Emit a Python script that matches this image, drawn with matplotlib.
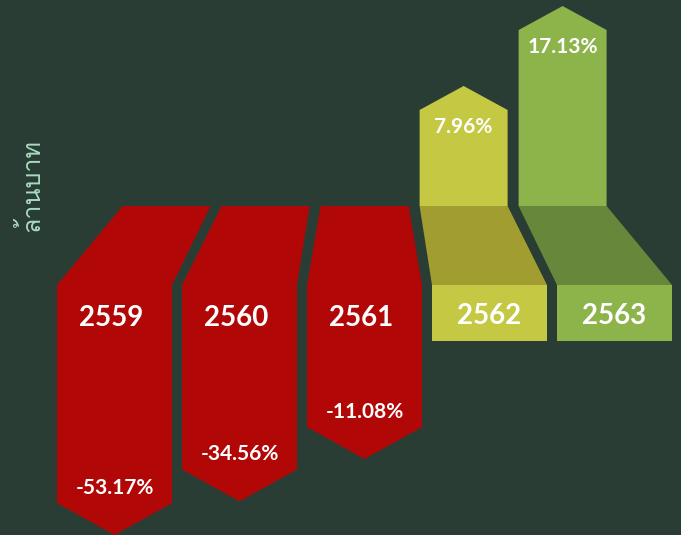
import matplotlib
matplotlib.use("Agg")
import matplotlib.pyplot as plt
from matplotlib.patches import Polygon
from matplotlib import font_manager

# ---------------- data ----------------
years = ["2559", "2560", "2561", "2562", "2563"]
changes = [-53.17, -34.56, -11.08, 7.96, 17.13]
y_label = "ล้านบาท"

# ---------------- styles ----------------
bg = "#2a3d34"
front_colors = ["#b20707", "#b20707", "#b20707", "#c5c843", "#8db34b"]
floor_colors = ["#b20707", "#b20707", "#b20707", "#a19d31", "#67883a"]
label_color = "#a8dcc0"

# pick a font with Thai glyphs if available
thai_font = None
try:
    from fontTools.ttLib import TTFont
    for f in font_manager.fontManager.ttflist:
        try:
            tt = TTFont(f.fname, fontNumber=0, lazy=True)
            cmap = tt.getBestCmap()
            if cmap and 0x0E25 in cmap and 0x0E1A in cmap and 0x0E17 in cmap:
                thai_font = f.name
                break
        except Exception:
            pass
except Exception:
    pass
thai_family = ([thai_font] if thai_font else []) + ["DejaVu Sans"]

# ---------------- layout (pixel-like coords) ----------------
W, H = 681, 535
fig = plt.figure(figsize=(W / 100, H / 100), dpi=100, facecolor=bg)
ax = fig.add_axes([0, 0, 1, 1])
ax.set_facecolor(bg)
ax.set_xlim(0, W)
ax.set_ylim(H, 0)
ax.axis("off")

front_y = 285       # front edge of "floor"
back_y = 206        # back edge of "floor"
front_w = 115
step = 125
x0 = 114.5
vanish_x = 365
depth_scale = 0.792
back_w = 88
chev = 32           # depth of arrow heads
front_h = 56        # height of front block for positive bars

def down_len(v):
    return 154 + 1.806 * abs(v)

def up_len(v):
    return 50.6 + 8.72 * v

bold = dict(family=["Lato", "DejaVu Sans"], fontweight="bold", color="white",
            ha="center", va="center")

for i, (yr, v) in enumerate(zip(years, changes)):
    fc = x0 + i * step
    bc = vanish_x + depth_scale * (fc - vanish_x)
    fl, fr = fc - front_w / 2, fc + front_w / 2
    bl, br = bc - back_w / 2, bc + back_w / 2
    if v < 0:
        tip = front_y + down_len(v)
        side = tip - chev
        pts = [(bl, back_y), (br, back_y), (fr, front_y), (fr, side),
               (fc, tip), (fl, side), (fl, front_y)]
        ax.add_patch(Polygon(pts, closed=True, fc=front_colors[i], ec="none"))
        ax.text(fc - 3, front_y + 33, yr, fontsize=20, **bold)
        ax.text(fc, side - 15, f"{v:.2f}%", fontsize=15, **bold)
    else:
        # floor
        ax.add_patch(Polygon([(bl, back_y), (br, back_y), (fr, front_y), (fl, front_y)],
                             closed=True, fc=floor_colors[i], ec="none"))
        # front block
        ax.add_patch(Polygon([(fl, front_y), (fr, front_y), (fr, front_y + front_h),
                              (fl, front_y + front_h)], closed=True,
                             fc=front_colors[i], ec="none"))
        # up arrow
        peak = back_y - up_len(v)
        top = peak + 24
        ax.add_patch(Polygon([(bl, back_y), (bl, top), (bc, peak), (br, top), (br, back_y)],
                             closed=True, fc=front_colors[i], ec="none"))
        ax.text(fc, front_y + 31, yr, fontsize=20, **bold)
        ax.text(bc, top + 17, f"{v:.2f}%", fontsize=15, **bold)

ax.text(31, 185, y_label, rotation=90, ha="center", va="center",
        fontsize=18, color=label_color, family=thai_family)

fig.savefig("out.png", dpi=100, facecolor=bg)
